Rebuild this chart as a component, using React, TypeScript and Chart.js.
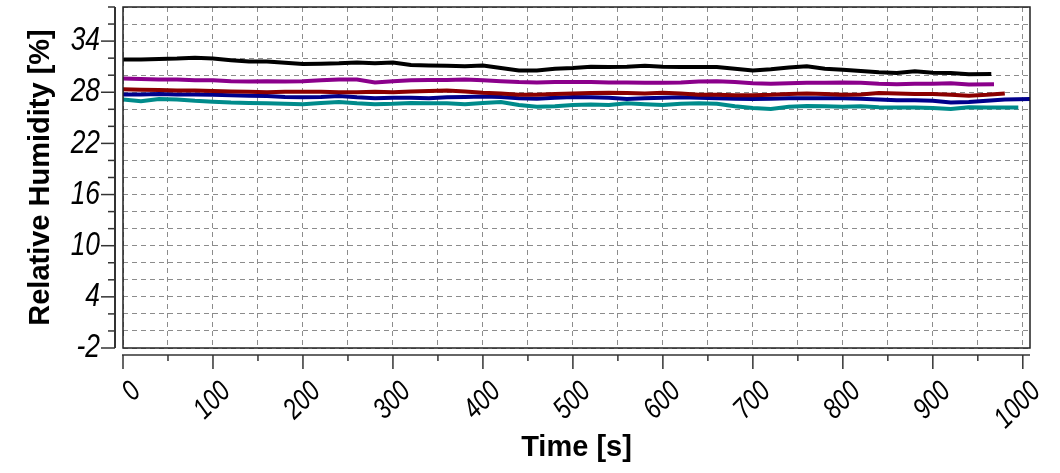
import React, { useEffect, useRef } from "react";
import { Chart, registerables } from "chart.js";

Chart.register(...registerables);

// Time grid (s)
const time = [
  0, 20, 40, 60, 80, 100, 120, 140, 160, 180,
  200, 220, 240, 260, 280, 300, 320, 340, 360, 380,
  400, 420, 440, 460, 480, 500, 520, 540, 560, 580,
  600, 620, 640, 660, 680, 700, 720, 740, 760, 780,
  800, 820, 840, 860, 880, 900, 920, 940, 960, 980, 1000,
];

// Relative humidity series (%)
const blackRH = [
  31.85, 31.85, 31.9, 31.95, 32.05, 31.95, 31.75, 31.6, 31.6, 31.45,
  31.3, 31.35, 31.4, 31.5, 31.4, 31.5, 31.2, 31.15, 31.1, 31.05,
  31.15, 30.85, 30.55, 30.55, 30.75, 30.85, 31.0, 30.95, 31.0, 31.1,
  31.0, 30.95, 30.95, 30.95, 30.75, 30.55, 30.7, 30.9, 31.05, 30.75,
  30.65, 30.5, 30.35, 30.25, 30.45, 30.3, 30.25, 30.1, 30.15,
];
const purpleRH = [
  29.6, 29.55, 29.5, 29.5, 29.4, 29.4, 29.3, 29.25, 29.3, 29.25,
  29.3, 29.4, 29.5, 29.5, 29.15, 29.3, 29.4, 29.45, 29.45, 29.5,
  29.4, 29.3, 29.2, 29.15, 29.2, 29.2, 29.2, 29.15, 29.15, 29.1,
  29.1, 29.15, 29.25, 29.3, 29.2, 29.05, 29.0, 29.05, 29.1, 29.1,
  29.15, 29.1, 29.0, 28.95, 29.0, 29.0, 29.05, 28.9, 28.95,
];
const darkRedRH = [
  28.35, 28.3, 28.25, 28.2, 28.2, 28.15, 28.1, 28.05, 28.0, 28.05,
  28.05, 28.05, 28.0, 28.0, 28.05, 28.0, 28.1, 28.15, 28.2, 28.1,
  27.95, 27.85, 27.7, 27.7, 27.8, 27.85, 27.9, 27.95, 27.9, 27.85,
  27.95, 27.85, 27.7, 27.7, 27.65, 27.65, 27.7, 27.8, 27.85, 27.8,
  27.7, 27.75, 27.9, 27.85, 27.8, 27.8, 27.7, 27.6, 27.7, 27.85,
];
const navyRH = [
  27.75, 27.75, 27.8, 27.75, 27.75, 27.7, 27.65, 27.6, 27.55, 27.45,
  27.4, 27.45, 27.55, 27.4, 27.3, 27.35, 27.35, 27.3, 27.4, 27.45,
  27.5, 27.45, 27.3, 27.25, 27.35, 27.45, 27.4, 27.35, 27.2, 27.3,
  27.35, 27.4, 27.35, 27.3, 27.25, 27.2, 27.25, 27.3, 27.3, 27.3,
  27.3, 27.25, 27.15, 27.05, 27.05, 27.0, 26.8, 26.85, 27.0, 27.15,
  27.2,
];
const tealRH = [
  27.15, 26.95, 27.2, 27.15, 27.0, 26.9, 26.8, 26.75, 26.7, 26.65,
  26.6, 26.75, 26.85, 26.7, 26.6, 26.65, 26.75, 26.7, 26.7, 26.6,
  26.75, 26.85, 26.5, 26.3, 26.35, 26.5, 26.55, 26.5, 26.7, 26.6,
  26.5, 26.65, 26.7, 26.65, 26.35, 26.15, 26.05, 26.3, 26.4, 26.35,
  26.3, 26.35, 26.25, 26.2, 26.2, 26.15, 26.05, 26.25, 26.2, 26.2,
];

// Time of the last sample of each series (s)
const endTimes = [965, 968, 980, 1008, 995];
const seriesValues = [blackRH, purpleRH, darkRedRH, navyRH, tealRH];
const seriesColors = ["#000000", "#8b008b", "#8b0000", "#00008b", "#008b8b"];

// Axis ticks
const xTickLabels = [0, 100, 200, 300, 400, 500, 600, 700, 800, 900, 1000];
const yTickLabels = [-2, 4, 10, 16, 22, 28, 34];
const xMin = 0;
const xMax = 1008;
const yMin = -2;
const yMax = 38;

const tickFont = "'Liberation Sans', Arial, sans-serif";
const titleFont = "'Liberation Sans', Arial, sans-serif";
const gridColor = "#8c8c8c";

const offsetAxesPlugin = {
  id: "offsetAxes",
  afterDraw(chart: any) {
    const { ctx, chartArea: a, scales } = chart;
    const xs = scales.x;
    const ys = scales.y;
    const line = (x1: number, y1: number, x2: number, y2: number) => {
      ctx.beginPath();
      ctx.moveTo(x1, y1);
      ctx.lineTo(x2, y2);
      ctx.stroke();
    };
    ctx.save();
    ctx.setLineDash([]);
    // frame
    ctx.strokeStyle = "#222222";
    ctx.lineWidth = 1.5;
    ctx.strokeRect(a.left, a.top, a.right - a.left, a.bottom - a.top);
    // detached y axis
    const yx = a.left - 8;
    ctx.strokeStyle = "#333333";
    ctx.lineWidth = 2;
    line(yx, a.top, yx, a.bottom);
    ctx.lineWidth = 1.5;
    ys.ticks.forEach((t: any) => {
      const py = ys.getPixelForValue(t.value);
      const major = yTickLabels.includes(t.value);
      line(yx - (major ? 14 : 7), py, yx, py);
    });
    // detached x axis
    const xy = a.bottom + 7;
    ctx.strokeStyle = "#666666";
    ctx.lineWidth = 2;
    line(a.left - 1, xy, a.right, xy);
    ctx.strokeStyle = "#333333";
    ctx.lineWidth = 1.5;
    xs.ticks.forEach((t: any) => {
      if (t.value > 1000) return;
      const px = xs.getPixelForValue(t.value);
      const major = xTickLabels.includes(t.value);
      line(px, xy, px, xy + (major ? 14 : 6));
    });

    // condensed italic tick labels
    ctx.fillStyle = "#000000";
    ctx.font = `italic 33px ${tickFont}`;
    ctx.textAlign = "right";
    ctx.textBaseline = "middle";
    yTickLabels.forEach((v) => {
      const py = ys.getPixelForValue(v);
      ctx.save();
      ctx.translate(a.left - 23, py);
      ctx.scale(0.8, 1);
      ctx.fillText(String(v), 0, 0);
      ctx.restore();
    });
    ctx.font = `italic 29px ${tickFont}`;
    ctx.textAlign = "right";
    ctx.textBaseline = "alphabetic";
    xTickLabels.forEach((v) => {
      const px = xs.getPixelForValue(v);
      ctx.save();
      ctx.translate(px + 19, a.bottom + 45);
      ctx.rotate(-Math.PI / 4);
      ctx.scale(0.8, 1);
      ctx.fillText(String(v), 0, 0);
      ctx.restore();
    });
    ctx.restore();
  },
};

export default function App() {
  const canvasRef = useRef<HTMLCanvasElement | null>(null);

  useEffect(() => {
    if (!canvasRef.current) return;
    const datasets = seriesValues.map((vals, k) => ({
      data: vals.map((v, i) => ({
        x: i === vals.length - 1 ? endTimes[k] : time[i],
        y: v,
      })),
      borderColor: seriesColors[k],
      backgroundColor: seriesColors[k],
      borderWidth: 4,
      pointRadius: 0,
      tension: 0,
      fill: false,
    }));

    const chart = new Chart(canvasRef.current, {
      type: "line",
      data: { datasets },
      plugins: [offsetAxesPlugin],
      options: {
        animation: false,
        responsive: true,
        maintainAspectRatio: false,
        layout: { padding: { top: 7, right: 30, left: 0, bottom: 0 } },
        plugins: {
          legend: { display: false },
          tooltip: { enabled: false },
        },
        scales: {
          x: {
            type: "linear",
            min: xMin,
            max: xMax,
            afterFit: (scale: any) => {
              scale.height = 125;
              scale.paddingLeft = 0;
              scale.paddingRight = 0;
              scale.paddingTop = 0;
              scale.paddingBottom = 0;
            },
            grid: {
              color: gridColor,
              lineWidth: 1,
              drawTicks: false,
            },
            border: { display: false, dash: [5, 4] },
            ticks: {
              display: false,
              stepSize: 50,
              autoSkip: false,
              includeBounds: false,
            },
            title: {
              display: true,
              text: "Time [s]",
              color: "#000000",
              font: { family: titleFont, size: 29, weight: "bold" },
              padding: { top: 0, bottom: 8 },
            },
          },
          y: {
            type: "linear",
            min: yMin,
            max: yMax,
            afterFit: (scale: any) => {
              scale.width = 123;
              scale.paddingLeft = 0;
              scale.paddingRight = 0;
              scale.paddingTop = 0;
              scale.paddingBottom = 0;
            },
            grid: {
              color: gridColor,
              lineWidth: 1,
              drawTicks: false,
            },
            border: { display: false, dash: [5, 4] },
            ticks: {
              display: false,
              stepSize: 2,
              autoSkip: false,
            },
            title: {
              display: true,
              text: "Relative Humidity [%]",
              color: "#000000",
              font: { family: titleFont, size: 29, weight: "bold" },
              padding: { top: 24, bottom: 0 },
            },
          },
        },
      } as any,
    });
    return () => chart.destroy();
  }, []);

  return (
    <div style={{ position: "fixed", left: 0, top: 0, width: 1060, height: 473, background: "#ffffff" }}>
      <canvas ref={canvasRef} />
    </div>
  );
}
